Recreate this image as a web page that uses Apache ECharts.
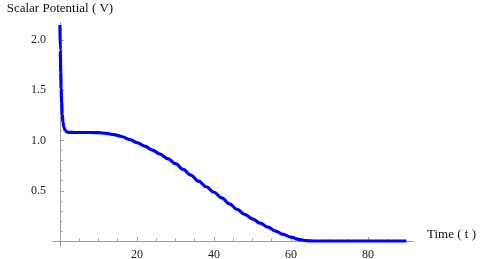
<!DOCTYPE html>
<html>
<head>
<meta charset="utf-8">
<script src="https://cdn.jsdelivr.net/npm/echarts@6/dist/echarts.min.js"></script>
<style>html,body{margin:0;padding:0;background:#fff}#c{width:480px;height:259px}</style>
</head>
<body>
<div id="c"></div>
<script>
const times = [0, 0.1, 0.2, 0.3, 0.45, 0.6, 0.8, 1.0, 1.3, 1.7, 2.2, 4, 6, 8, 10, 12, 14, 16, 18, 20, 22, 24, 26, 28, 30, 32, 34, 36, 38, 40, 42, 44, 46, 48, 50, 52, 54, 56, 58, 60, 62, 64, 66, 70, 75, 80, 85, 90];
const potential = [2.15, 1.9, 1.68, 1.52, 1.38, 1.26, 1.18, 1.135, 1.105, 1.088, 1.082, 1.08, 1.08, 1.08, 1.078, 1.072, 1.058, 1.04, 1.012, 0.98, 0.945, 0.905, 0.865, 0.82, 0.77, 0.712, 0.655, 0.595, 0.54, 0.485, 0.43, 0.37, 0.315, 0.265, 0.22, 0.178, 0.137, 0.099, 0.066, 0.038, 0.016, 0.003, 0, 0, 0, 0, 0, 0];
const xMajorTicks = [20, 40, 60, 80];
const xMinorTicks = [5, 10, 15, 25, 30, 35, 45, 50, 55, 65, 70, 75, 85];
const yMajorTicks = [0.5, 1.0, 1.5, 2.0];
const yMinorTicks = [0.1, 0.2, 0.3, 0.4, 0.6, 0.7, 0.8, 0.9, 1.1, 1.2, 1.3, 1.4, 1.6, 1.7, 1.8, 1.9, 2.1];
const xName = 'Time ( t )';
const yName = 'Scalar Potential ( V)';

const axisColor = '#a0a0a0';
const font = 'Liberation Serif';
const points = times.map((t, i) => [t, potential[i]]);

const chart = echarts.init(document.getElementById('c'), null, {renderer: 'canvas'});
chart.setOption({
  animation: false,
  backgroundColor: '#fff',
  grid: {left: 53, right: 67, top: 23, bottom: 13, containLabel: false, outerBoundsMode: 'none'},
  xAxis: [{
    type: 'value', position: 'bottom', min: -1.8, max: 91.7,
    name: xName, nameLocation: 'end', nameGap: 14,
    nameTextStyle: {fontFamily: font, fontSize: 13, color: '#111', verticalAlign: 'bottom', padding: [0, 0, 0, 0]},
    axisLine: {show: true, onZero: true, lineStyle: {color: axisColor, width: 1}},
    axisTick: {show: true, inside: true, length: 4, customValues: xMajorTicks, lineStyle: {color: axisColor}},
    axisLabel: {show: true, customValues: xMajorTicks, margin: 3, fontFamily: font, fontSize: 12, color: '#222'},
    splitLine: {show: false}, minorTick: {show: false}
  }, {
    type: 'value', position: 'bottom', min: -1.8, max: 91.7,
    axisLine: {show: true, onZero: true, onZeroAxisIndex: 0, lineStyle: {color: axisColor, width: 1}},
    axisTick: {show: true, inside: true, length: 2.5, customValues: xMinorTicks, lineStyle: {color: axisColor}},
    axisLabel: {show: false},
    splitLine: {show: false}
  }],
  yAxis: [{
    type: 'value', position: 'left', min: -0.05, max: 2.17,
    name: yName, nameLocation: 'end', nameGap: 14,
    nameTextStyle: {fontFamily: font, fontSize: 13, color: '#111', verticalAlign: 'middle', align: 'center'},
    axisLine: {show: true, onZero: true, lineStyle: {color: axisColor, width: 1}},
    axisTick: {show: true, inside: true, length: 4, customValues: yMajorTicks, lineStyle: {color: axisColor}},
    axisLabel: {show: true, customValues: yMajorTicks, margin: 7, fontFamily: font, fontSize: 12, color: '#222',
      formatter: v => Number(v).toFixed(1)},
    splitLine: {show: false}
  }, {
    type: 'value', position: 'left', min: -0.05, max: 2.17,
    axisLine: {show: true, onZero: true, onZeroAxisIndex: 0, lineStyle: {color: axisColor, width: 1}},
    axisTick: {show: true, inside: true, length: 2.5, customValues: yMinorTicks, lineStyle: {color: axisColor}},
    axisLabel: {show: false},
    splitLine: {show: false}
  }],
  series: [{
    type: 'line', xAxisIndex: 0, yAxisIndex: 0,
    data: points, showSymbol: false, smooth: 0.4, smoothMonotone: 'x',
    lineStyle: {color: '#0000ff', width: 3.2}, clip: false
  }]
});
</script>
</body>
</html>
